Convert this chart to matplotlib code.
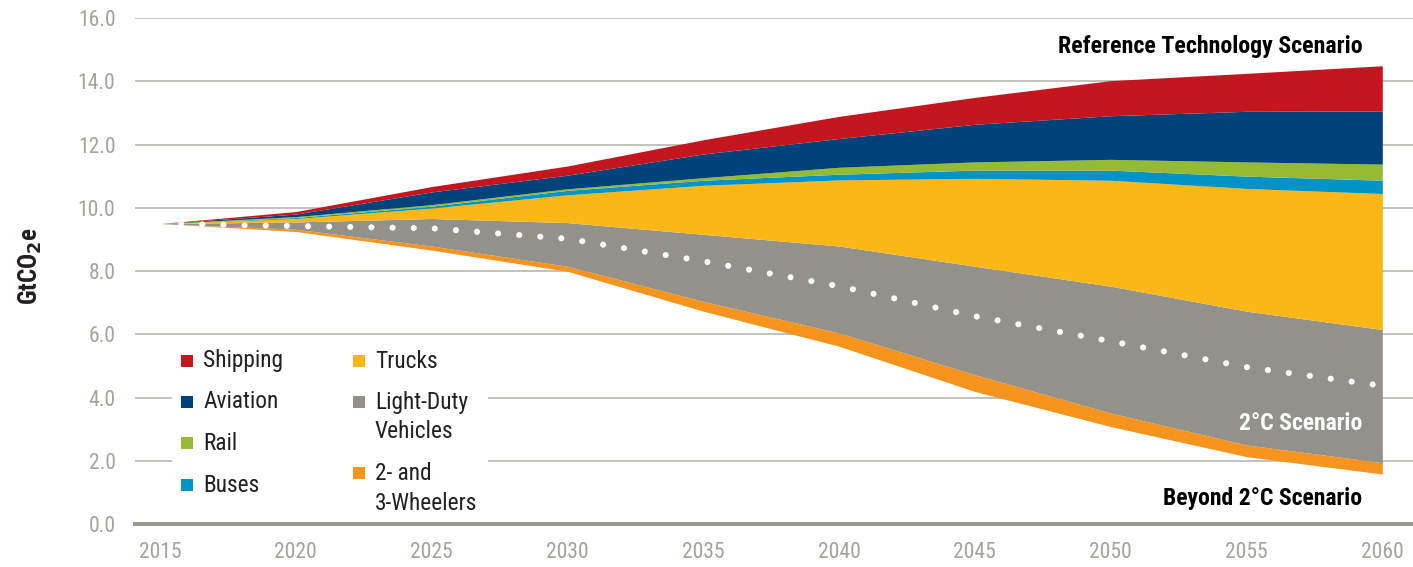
import matplotlib
matplotlib.use("Agg")
import matplotlib.pyplot as plt
from matplotlib.patches import Rectangle
import numpy as np

# ---------------- data ----------------
years = [2015, 2020, 2025, 2030, 2035, 2040, 2045, 2050, 2055, 2060]
beyond_2c_total = [9.50, 9.25, 8.66, 7.99, 6.73, 5.62, 4.19, 3.08, 2.13, 1.58]
# reductions from Reference Technology Scenario to Beyond 2°C, by mode (stack bottom -> top)
wheelers = [0, 0.07, 0.13, 0.16, 0.31, 0.42, 0.53, 0.43, 0.37, 0.36]
light_duty = [0, 0.23, 0.87, 1.38, 2.12, 2.75, 3.43, 4.01, 4.23, 4.21]
trucks = [0, 0.11, 0.33, 0.88, 1.55, 2.09, 2.78, 3.35, 3.88, 4.30]
buses = [0, 0.03, 0.06, 0.14, 0.16, 0.18, 0.26, 0.32, 0.39, 0.42]
rail = [0, 0.03, 0.05, 0.05, 0.08, 0.22, 0.26, 0.34, 0.45, 0.51]
aviation = [0, 0.08, 0.40, 0.43, 0.75, 0.91, 1.19, 1.38, 1.60, 1.68]
shipping = [0, 0.08, 0.17, 0.29, 0.45, 0.70, 0.85, 1.11, 1.20, 1.43]
two_c_total = [9.50, 9.42, 9.35, 9.02, 8.31, 7.52, 6.57, 5.78, 4.96, 4.37]

series_names = ["2- and\n3-Wheelers", "Light-Duty\nVehicles", "Trucks", "Buses", "Rail", "Aviation", "Shipping"]
series_values = [wheelers, light_duty, trucks, buses, rail, aviation, shipping]
series_colors = ["#F7941D", "#92918A", "#FBB715", "#0093C7", "#94BB33", "#00427A", "#C3161F"]

y_ticks = [0, 2, 4, 6, 8, 10, 12, 14, 16]
x_ticks = years

# legend layout (column1 top->bottom, column2 top->bottom)
legend_col1 = ["Shipping", "Aviation", "Rail", "Buses"]
legend_col2 = ["Trucks", "Light-Duty\nVehicles", "2- and\n3-Wheelers"]

# ---------------- style ----------------
FONT = ["Liberation Sans Narrow", "Roboto Condensed", "Roboto", "DejaVu Sans"]
plt.rcParams["font.family"] = FONT
TICK_COLOR = "#a3a29b"
GRID_COLOR = "#bdbdb6"
TEXT_DARK = "#231f20"

W, H = 1413, 567
fig = plt.figure(figsize=(W / 100, H / 100), dpi=100)
ax = fig.add_axes([135 / W, 43 / H, 1278 / W, 506 / H])
ax.set_xlim(2014.08, 2061.13)
ax.set_ylim(0, 16)

# stacked areas above the Beyond 2°C total
lower = np.array(beyond_2c_total, dtype=float)
for vals, col in zip(series_values, series_colors):
    upper = lower + np.array(vals, dtype=float)
    ax.fill_between(years, lower, upper, color=col, lw=0, zorder=3)
    lower = upper

# 2°C scenario dotted line
ax.plot(years, two_c_total, color="white", lw=4.4, linestyle=(0, (0.01, 3.45)),
        dash_capstyle="round", zorder=4)

# grid / axes
ax.set_yticks(y_ticks)
ax.set_yticklabels([f"{v:.1f}" for v in y_ticks])
ax.set_xticks(x_ticks)
ax.set_xticklabels([str(y) for y in x_ticks])
ax.grid(axis="y", color=GRID_COLOR, lw=1.3, zorder=0)
ax.set_axisbelow(True)
for s in ["top", "right", "left"]:
    ax.spines[s].set_visible(False)
ax.spines["bottom"].set_color("#9c9b92")
ax.spines["bottom"].set_linewidth(2.9)
ax.spines["bottom"].set_zorder(6)
ax.tick_params(axis="both", length=0, labelsize=15.5, colors=TICK_COLOR)
ax.tick_params(axis="y", pad=14)
ax.tick_params(axis="x", pad=13)

# y label
fig.text(30 / W, 1 - 266 / H, "GtCO$_\\mathbf{2}$e", rotation=90, ha="center", va="center",
         fontsize=18, fontweight="bold", color=TEXT_DARK)

# scenario labels
ax.text(2059.26, 15.11, "Reference Technology Scenario", ha="right", va="center",
        fontsize=17.2, fontweight="bold", color="black", zorder=7)
ax.text(2059.26, 3.17, "2°C Scenario", ha="right", va="center",
        fontsize=17, fontweight="bold", color="white", zorder=7)
ax.text(2059.26, 0.82, "Beyond 2°C Scenario", ha="right", va="center",
        fontsize=17, fontweight="bold", color="black", zorder=7)

# legend (manual)
def px(x, y):
    return x / W, 1 - y / H

bx0, by0 = px(172, 521)
bx1, by1 = px(488, 340)
fig.patches.append(Rectangle((bx0, by0), bx1 - bx0, by1 - by0, transform=fig.transFigure,
                             facecolor="white", edgecolor="none", zorder=5))
color_of = dict(zip(series_names, series_colors))

def legend_item(label, xsq, ytop):
    col = color_of[label]
    sx, sy = px(xsq, ytop + 6)
    fig.patches.append(Rectangle((sx, sy), 12 / W, 12 / H, transform=fig.transFigure,
                                 facecolor=col, edgecolor="none", zorder=6))
    for i, line in enumerate(label.split("\n")):
        tx, ty = px(xsq + 22, ytop + 30 * i)
        fig.text(tx, ty, line, ha="left", va="center", fontsize=16.8, color=TEXT_DARK, zorder=7)

for label, yc in zip(legend_col1, [361, 402, 443, 485]):
    legend_item(label, 181, yc)
for label, yc in zip(legend_col2, [361, 402, 473]):
    legend_item(label, 353, yc)

fig.savefig("out.png", dpi=100)
